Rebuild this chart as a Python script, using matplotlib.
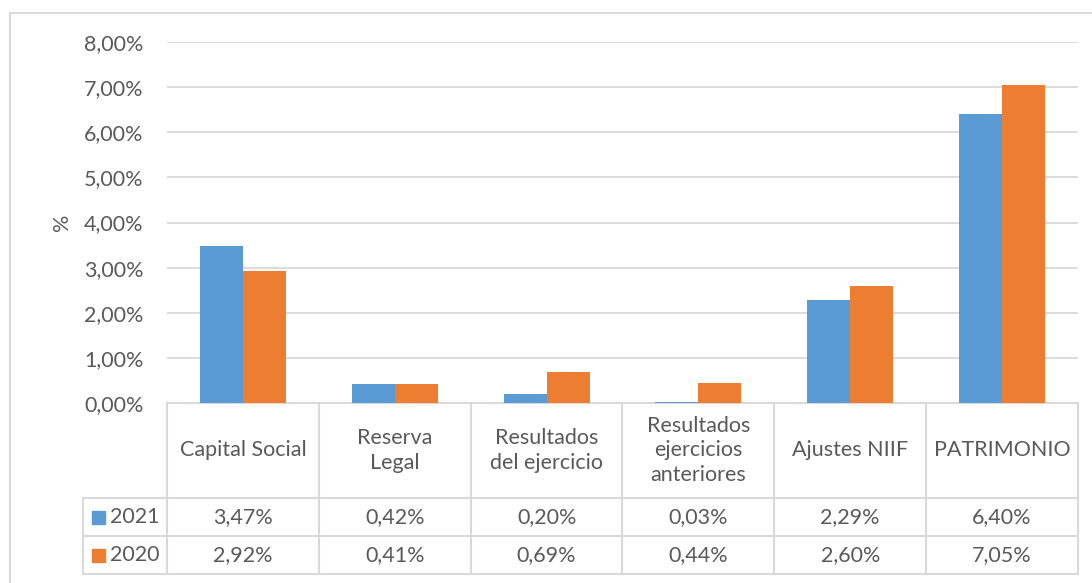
import matplotlib
matplotlib.use("Agg")
import matplotlib.pyplot as plt
from matplotlib.lines import Line2D
from matplotlib.patches import Rectangle
from matplotlib.transforms import blended_transform_factory
import numpy as np

categories = ["Capital Social", "Reserva\nLegal", "Resultados\ndel ejercicio",
              "Resultados\nejercicios\nanteriores", "Ajustes NIIF", "PATRIMONIO"]
series_names = ["2021", "2020"]
values_2021 = [3.47, 0.42, 0.20, 0.03, 2.29, 6.40]
values_2020 = [2.92, 0.41, 0.69, 0.44, 2.60, 7.05]
y_ticks = [0, 1, 2, 3, 4, 5, 6, 7, 8]

colors = ["#5B9BD5", "#ED7D31"]
text_color = "#595959"
grid_color = "#D9D9D9"
FONT = "Lato"
FS = 15.5

W, H = 1092, 583
fig = plt.figure(figsize=(W / 100, H / 100), dpi=100)

def fx(x):
    return x / W

def fy(y):
    return 1 - y / H

# chart border
fig.add_artist(Line2D([fx(10), 1], [fy(13), fy(13)], color=grid_color, lw=1.5, transform=fig.transFigure))
fig.add_artist(Line2D([fx(10), fx(10)], [fy(13), 0], color=grid_color, lw=1.5, transform=fig.transFigure))

left, right, top, bottom = 167, 1078, 42, 403
ax = fig.add_axes([fx(left), fy(bottom), fx(right) - fx(left), fy(top) - fy(bottom)])

x = np.arange(len(categories))
bw = 0.283
ax.bar(x - bw / 2, values_2021, width=bw, color=colors[0], zorder=3)
ax.bar(x + bw / 2, values_2020, width=bw, color=colors[1], zorder=3)

ax.set_xlim(-0.5, len(categories) - 0.5)
ax.set_ylim(0, 8)
ax.set_yticks(y_ticks)
ax.set_yticklabels([f"{v:.2f}".replace(".", ",") + "%" for v in y_ticks],
                   fontsize=FS, color=text_color, family=FONT)
ax.tick_params(axis="y", length=0, pad=17)
ax.set_xticks([])
ax.grid(axis="y", color=grid_color, lw=1.3, zorder=0)
for s in ["top", "right", "left"]:
    ax.spines[s].set_visible(False)
ax.spines["bottom"].set_color(grid_color)
ax.spines["bottom"].set_linewidth(1.5)

fig.text(fx(62), fy(222), "%", rotation=90, ha="center", va="center",
         fontsize=FS, color=text_color, family=FONT)

# data table
tr = blended_transform_factory(ax.transData, fig.transFigure)
row_header_bottom = 498
row1_bottom = 536
row2_bottom = 574
legend_left = 83
edges = np.arange(len(categories) + 1) - 0.5
for e in edges:
    fig.add_artist(Line2D([e, e], [fy(bottom), fy(row2_bottom)], color=grid_color, lw=1.5, transform=tr))
for yy in [row_header_bottom, row1_bottom, row2_bottom]:
    fig.add_artist(Line2D([fx(legend_left), fx(right)], [fy(yy), fy(yy)], color=grid_color, lw=1.5,
                          transform=fig.transFigure))
fig.add_artist(Line2D([fx(legend_left), fx(legend_left)], [fy(row_header_bottom), fy(row2_bottom)],
                      color=grid_color, lw=1.5, transform=fig.transFigure))

for i, c in enumerate(categories):
    fig.text(i, fy((bottom + row_header_bottom) / 2), c, transform=tr, ha="center", va="center",
             fontsize=FS, color=text_color, family=FONT, linespacing=1.3)

rows = [(values_2021, (row_header_bottom + row1_bottom) / 2),
        (values_2020, (row1_bottom + row2_bottom) / 2)]
for k, (vals, yc) in enumerate(rows):
    for i, v in enumerate(vals):
        fig.text(i, fy(yc), f"{v:.2f}".replace(".", ",") + "%", transform=tr, ha="center", va="center",
                 fontsize=FS, color=text_color, family=FONT)
    fig.add_artist(Rectangle((fx(92), fy(yc + 6.5)), fx(13), 13 / H, color=colors[k],
                             transform=fig.transFigure))
    fig.text(fx(110), fy(yc), series_names[k], ha="left", va="center",
             fontsize=FS, color=text_color, family=FONT)

fig.savefig("out.png", dpi=100)
